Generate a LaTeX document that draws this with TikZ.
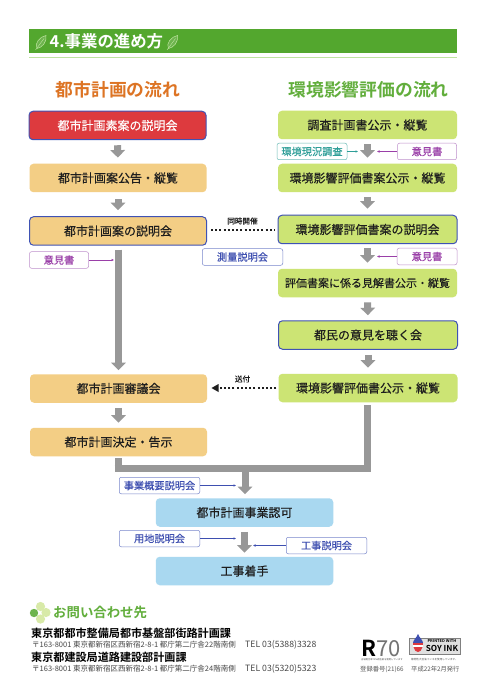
\documentclass[tikz,border=0pt]{standalone}
\usepackage{fontspec}
\usetikzlibrary{arrows.meta,calc}
\setmainfont{Noto Sans CJK JP}
\newfontfamily\jpmed{Noto Sans CJK JP}[FakeBold=0.35]
\newfontfamily\jpbold{Noto Sans CJK JP Bold}
\definecolor{hgreen}{HTML}{53A72E}
\definecolor{hline}{HTML}{BFE3A0}
\definecolor{torange}{HTML}{DD7424}
\definecolor{tgreen}{HTML}{62AE3C}
\definecolor{bred}{HTML}{DD3A3E}
\definecolor{bor}{HTML}{F3CE85}
\definecolor{bgr}{HTML}{CCE474}
\definecolor{bbl}{HTML}{A9D8F0}
\definecolor{bedge}{HTML}{3F52B4}
\definecolor{arr}{HTML}{989898}
\definecolor{pur}{HTML}{9A3FA8}
\definecolor{pured}{HTML}{BE8FCB}
\definecolor{blu}{HTML}{3E4FB0}
\definecolor{teal2}{HTML}{2E9E98}
\definecolor{txt}{HTML}{1E1E1E}
\definecolor{clov}{HTML}{D8EAA8}
\tikzset{
 flowbox/.style={rounded corners=4pt,minimum height=28.5pt,inner sep=0pt,font=\jpmed\fontsize{12}{12}\selectfont,text=txt},
 orangebox/.style={flowbox,fill=bor,minimum width=177pt},
 greenbox/.style={flowbox,fill=bgr,minimum width=179pt},
 bluebox/.style={flowbox,fill=bbl,minimum width=177.5pt},
 ringed/.style={draw=bedge,line width=1pt},
 tag/.style={draw,fill=white,rounded corners=2pt,line width=.5pt,minimum height=16.5pt,inner sep=0pt,font=\jpmed\fontsize{10.2}{10}\selectfont},
 purtag/.style={tag,draw=pured,text=pur,minimum width=59pt},
 blutag/.style={tag,draw=bedge!70,text=blu,minimum width=80.5pt},
 tealtag/.style={tag,draw=teal2!70,text=teal2,minimum width=70pt},
 blockarrow/.style={draw=arr,line width=7pt,-{Triangle[width=14.5pt,length=7.5pt]}},
 barline/.style={draw=arr,line width=7pt},
 thinpur/.style={draw=pur,line width=.5pt,-{Latex[length=2.5pt,width=2.5pt]}},
 thinblu/.style={draw=blu,line width=.5pt,-{Latex[length=2.5pt,width=2.5pt]}},
 thinteal/.style={draw=teal2,line width=.5pt,-{Latex[length=2.5pt,width=2.5pt]}},
 linkdots/.style={draw=txt,line width=1.9pt,dash pattern=on 1.9pt off 2.3pt},
 smallcap/.style={inner sep=0pt,text=txt,font=\jpmed\fontsize{7.6}{8}\selectfont},
 addr/.style={inner sep=0pt,anchor=west,text=black!72,font=\fontsize{7.5}{8}\selectfont},
 telno/.style={addr,font=\fontsize{8.7}{9}\selectfont},
 dept/.style={inner sep=0pt,anchor=west,text=black,font=\jpbold\fontsize{11.1}{11}\selectfont},
 title/.style={inner sep=0pt,font=\jpbold\fontsize{17.8}{18}\selectfont},
 leaf/.pic={\draw[hline,line width=.5pt,fill=hgreen!85!white] (-4,6) .. controls (-7,1) and (-1,-6) .. (5,-7) .. controls (6,0) and (1,5) .. (-4,6) -- cycle; \draw[hline,line width=.4pt] (-5.5,7.5) -- (3,-4);}
}
\begin{document}
\begin{tikzpicture}[x=1pt,y=-1pt]
\useasboundingbox (0,0) rectangle (492,700);
\fill[white] (0,0) rectangle (492,700);
% header
\fill[hgreen] (29,29) rectangle (457,53);
\fill[hline] (29,57.2) rectangle (457,58);
\pic at (41,42.5) {leaf};
\pic at (172.5,42.5) {leaf};
\node[inner sep=0pt,anchor=west,text=white,font=\jpbold\fontsize{16.4}{16}\selectfont] (head) at (49.5,41.5) {4.事業の進め方};
% titles
\node[title,text=torange] (tl) at (118,90) {都市計画の流れ};
\node[title,text=tgreen] (tr) at (368.5,90) {環境影響評価の流れ};
% left column
\node[orangebox,ringed,fill=bred,text=white] (A) at (117.5,125.5) {都市計画素案の説明会};
\node[orangebox] (B) at (118,178) {都市計画案公告・縦覧};
\node[orangebox,ringed] (C) at (118,231) {都市計画案の説明会};
\node[orangebox] (D) at (118.5,388.5) {都市計画審議会};
\node[orangebox] (E) at (118.5,442) {都市計画決定・告示};
% right column
\node[greenbox] (R1) at (367.5,125) {調査計画書公示・縦覧};
\node[greenbox] (R2) at (367.5,178) {環境影響評価書案公示・縦覧};
\node[greenbox,ringed] (R3) at (367.5,229.5) {環境影響評価書案の説明会};
\node[greenbox,font=\jpmed\fontsize{11}{12}\selectfont] (R4) at (367.5,283) {評価書案に係る見解書公示・縦覧};
\node[greenbox,ringed] (R5) at (368,335) {都民の意見を聴く会};
\node[greenbox] (R6) at (368,388) {環境影響評価書公示・縦覧};
% blue
\node[bluebox] (F) at (244.5,512.5) {都市計画事業認可};
\node[bluebox] (G) at (244.5,571) {工事着手};
% block arrows
\draw[blockarrow,shorten <=5pt,shorten >=6pt] (A) -- (B);
\draw[blockarrow,shorten <=7pt,shorten >=6pt] (B) -- (C);
\draw[blockarrow,shorten <=4pt,shorten >=4pt] (C.south -| D) -- (D.north);
\draw[blockarrow,shorten <=5pt,shorten >=5pt] (D) -- (E);
\draw[blockarrow,shorten <=5pt,shorten >=6pt] (R1) -- (R2);
\draw[blockarrow,shorten <=5pt,shorten >=6pt] (R2) -- (R3);
\draw[blockarrow,shorten <=4pt,shorten >=6pt] (R3) -- (R4);
\draw[blockarrow,shorten <=5pt,shorten >=5pt] (R4) -- (R5);
\draw[blockarrow,shorten <=5pt,shorten >=6pt] (R5) -- (R6);
\coordinate (mR) at (367.5,468.5);
\coordinate (mL) at (118,468.5);
\coordinate (mC) at (245,468.5);
\draw[barline,shorten <=3pt] (R6.south -| mR) -- (mR);
\draw[barline,shorten <=2pt] (E.south -| mL) -- (mL);
\draw[barline] ($(mL)+(-3.5,0)$) -- ($(mR)+(3.5,0)$);
\draw[blockarrow,shorten >=4pt] (mC) -- (mC |- F.north);
\draw[blockarrow,shorten <=5pt,shorten >=4pt] (F) -- (G);
% tags
\node[tealtag] (t1) at (312,151.5) {環境現況調査};
\node[purtag] (t2) at (427,151.5) {意見書};
\node[purtag] (t3) at (59,260) {意見書};
\node[blutag] (t4) at (242.5,257) {測量説明会};
\node[purtag,minimum width=60pt] (t5) at (427,256.5) {意見書};
\node[blutag] (t6) at (159.5,485.5) {事業概要説明会};
\node[blutag] (t7) at (159.5,538.5) {用地説明会};
\node[blutag] (t8) at (326.5,545.5) {工事説明会};
\coordinate (c1) at (358,151.5);
\coordinate (c2) at (377,151.5);
\coordinate (c3) at (114,260);
\coordinate (c5) at (377,256.5);
\coordinate (c6) at (236,485.5);
\coordinate (c7) at (236,538.5);
\coordinate (c8) at (253,545.5);
\draw[thinteal] (t1) -- (c1);
\draw[thinpur] (t2) -- (c2);
\draw[thinpur] (t3) -- (c3);
\draw[thinpur] (t5) -- (c5);
\draw[thinblu] (t6) -- (c6);
\draw[thinblu] (t7) -- (c7);
\draw[thinblu] (t8) -- (c8);
% dotted links
\coordinate (dl) at (242,230.3);
\draw[linkdots,shorten <=4pt,shorten >=3pt] (C.east |- dl) -- (R3.west |- dl);
\node[smallcap] (l1) at (242.5,221) {同時開催};
\draw[linkdots,shorten <=2pt,shorten >=11pt] (R6.west) -- (D.east |- R6.west);
\fill[txt] (211.5,388) -- (218.5,384) -- (218.5,392) -- cycle;
\node[smallcap] (l2) at (242.5,379) {送付};
% footer
\fill[clov] (40.5,606.5) circle (4.6);
\fill[clov] (40.5,619) circle (4.6);
\fill[clov] (46,612.5) circle (4.6);
\fill[hgreen!85!white] (34,613) circle (4.2);
\node[inner sep=0pt,anchor=west,text=tgreen,font=\jpbold\fontsize{13.4}{14}\selectfont] (q) at (53,612.5) {お問い合わせ先};
\node[dept] (d1) at (31,633) {東京都都市整備局都市基盤部街路計画課};
\node[addr] (a1) at (32,644.5) {〒163-8001 東京都新宿区西新宿2-8-1 都庁第二庁舎22階南側};
\node[telno] (a1t) at (245,644.5) {TEL 03(5388)3328};
\node[dept] (d2) at (31,657) {東京都建設局道路建設部計画課};
\node[addr] (a2) at (32,669) {〒163-8001 東京都新宿区西新宿2-8-1 都庁第二庁舎24階南側};
\node[telno] (a2t) at (245,669) {TEL 03(5320)5323};
% marks
\node[inner sep=0pt,anchor=west,text=black,font=\jpbold\fontsize{22}{22}\selectfont] (r70) at (361,648.5) {R};
\node[inner sep=0pt,anchor=west,text=black!55,font=\fontsize{22}{22}\selectfont] (n70) at (376,648.5) {70};
\node[inner sep=0pt,anchor=west,text=black!70,font=\fontsize{2.3}{3}\selectfont] (cap1) at (361,659.5) {古紙配合率70\%再生紙を使用しています};
\draw[black!50,line width=.5pt,fill=black!12] (409.5,638) rectangle (460,654);
\fill[blu] (418,634) .. controls (419.5,638) and (423,640) .. (423,643) -- (413,643) .. controls (413,640) and (416.5,638) .. (418,634) -- cycle;
\fill[white] (413,643) rectangle (423,647);
\fill[bred] (413,643) rectangle (423,645);
\fill[bred] (413.5,647) -- (422.5,647) .. controls (422,650) and (420,652) .. (418,652) .. controls (416,652) and (414,650) .. (413.5,647) -- cycle;
\node[inner sep=0pt,text=black,font=\jpbold\fontsize{4}{4}\selectfont] (si1) at (442,641.5) {PRINTED WITH};
\node[inner sep=0pt,text=black,font=\jpbold\fontsize{8.2}{8}\selectfont] (si2) at (442,648.7) {SOY INK};
\node[inner sep=0pt,anchor=west,text=black!70,font=\fontsize{2.6}{3}\selectfont] (cap2) at (411,659.5) {植物性大豆油インキを使用しています。};
\node[inner sep=0pt,anchor=west,text=black!65,font=\fontsize{6.3}{7}\selectfont] (reg) at (360,669) {登録番号(21)66};
\node[inner sep=0pt,anchor=west,text=black!65,font=\fontsize{6.3}{7}\selectfont] (date) at (411,669) {平成22年2月発行};
\end{tikzpicture}
\end{document}
